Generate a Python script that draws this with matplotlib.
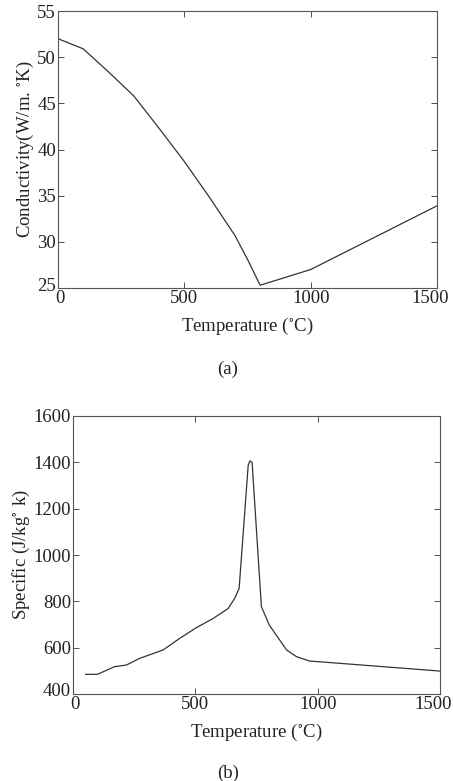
import matplotlib
matplotlib.use("Agg")
import matplotlib.pyplot as plt
from matplotlib.transforms import ScaledTranslation

plt.rcParams['font.family'] = ['Liberation Serif', 'DejaVu Serif']
plt.rcParams['mathtext.fontset'] = 'stix'

# (a) thermal conductivity
temp_a = [0, 100, 200, 300, 400, 500, 600, 700, 750, 800, 1000, 1500]
cond = [52.0, 50.9, 48.4, 45.8, 42.3, 38.7, 34.8, 30.7, 28.1, 25.3, 27.0, 33.9]

# (b) specific heat
temp_b = [52, 100, 170, 218, 273, 368, 436, 505, 573, 634, 661, 679,
          716, 723, 732, 770, 802, 873, 914, 968, 1009, 1500]
spec = [485, 485, 518, 525, 554, 590, 640, 687, 726, 769, 813, 856,
        1387, 1406, 1400, 777, 698, 590, 561, 542, 539, 499]

W, H = 453, 781
FS = 13.5
fig = plt.figure(figsize=(W / 100, H / 100), dpi=100)

def frac(l, t, r, b):
    return [l / W, 1 - b / H, (r - l) / W, (b - t) / H]

def nudge(label, dx, dy):
    label.set_transform(label.get_transform() + ScaledTranslation(dx / 100, dy / 100, fig.dpi_scale_trans))

def style(ax):
    ax.tick_params(direction='in', top=True, right=True, labelsize=FS,
                   length=4.5, width=0.6, colors='#333333', labelcolor='#222222', pad=1.5)
    for s in ax.spines.values():
        s.set_linewidth(0.8)
        s.set_color('#555555')
    fig.canvas.draw()
    # keep last x label on the page, lift lowest y label a bit like the original
    nudge(ax.get_xticklabels()[-1], -7, 0)
    nudge(ax.get_xticklabels()[0], 2, 0)
    nudge(ax.get_yticklabels()[0], 0, 4)

ax1 = fig.add_axes(frac(58, 11, 437, 288))
ax1.plot(temp_a, cond, color='#333333', lw=0.9)
ax1.set_xlim(0, 1500)
ax1.set_ylim(25, 55)
ax1.set_xticks([0, 500, 1000, 1500])
ax1.set_yticks([25, 30, 35, 40, 45, 50, 55])
ax1.set_xlabel(r'Temperature ($^{\circ}$C)', fontsize=FS, color='#222222', labelpad=6)
ax1.set_ylabel(r'Conductivity(W/m. $^{\circ}$K)', fontsize=FS, color='#222222', labelpad=1)
style(ax1)
fig.text(228 / W, 1 - 369 / H, '(a)', ha='center', va='center', fontsize=FS, color='#222222')

ax2 = fig.add_axes(frac(73, 416, 440, 694))
ax2.plot(temp_b, spec, color='#333333', lw=0.9)
ax2.set_xlim(0, 1500)
ax2.set_ylim(400, 1600)
ax2.set_xticks([0, 500, 1000, 1500])
ax2.set_yticks([400, 600, 800, 1000, 1200, 1400, 1600])
ax2.set_xlabel(r'Temperature ($^{\circ}$C)', fontsize=FS, color='#222222', labelpad=6)
ax2.set_ylabel(r'Specific (J/kg$^{\circ}$ k)', fontsize=FS, color='#222222', labelpad=1)
style(ax2)
fig.text(228 / W, 1 - 773 / H, '(b)', ha='center', va='center', fontsize=FS, color='#222222')

fig.savefig('out.png', dpi=100)
